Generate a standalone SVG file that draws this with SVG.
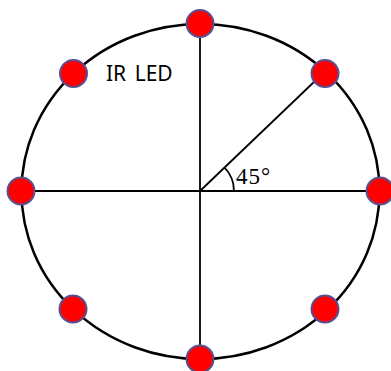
<svg xmlns="http://www.w3.org/2000/svg" width="391" height="371" viewBox="0 0 391 371">
<style>
.ln{stroke:#000;stroke-width:1.8;fill:none}
.rim{stroke:#000;stroke-width:2.5;fill:none}
.led{fill:#ff0000;stroke:#5a4f8f;stroke-width:2}
.lbl{font-family:"Noto Sans","Liberation Sans",sans-serif;font-size:21px;fill:#000}
.deg{font-family:"Liberation Serif",serif;font-size:23px;fill:#000;letter-spacing:1px}
</style>
<rect width="391" height="371" fill="#fff"/>
<g id="rim"><ellipse class="rim" cx="200.5" cy="191.5" rx="179" ry="167.5"/></g>
<g id="connectors">
<line class="ln" x1="200" y1="24" x2="200" y2="359"/>
<line class="ln" x1="21" y1="191" x2="380" y2="191"/>
<line class="ln" x1="200" y1="191" x2="315" y2="81"/>
<path class="ln" d="M234 191 A34 34 0 0 0 224.5 167.5"/>
</g>
<g id="led-n"><circle class="led" cx="200" cy="23.5" r="13.5"/></g>
<g id="led-ne"><circle class="led" cx="325" cy="73.5" r="13.5"/></g>
<g id="led-e"><circle class="led" cx="380" cy="191" r="13.5"/></g>
<g id="led-se"><circle class="led" cx="325" cy="309" r="13.5"/></g>
<g id="led-s"><circle class="led" cx="200" cy="359" r="13.5"/></g>
<g id="led-sw"><circle class="led" cx="73" cy="309" r="13.5"/></g>
<g id="led-w"><circle class="led" cx="21" cy="191" r="13.5"/></g>
<g id="led-nw"><circle class="led" cx="73.5" cy="73.5" r="13.5"/></g>
<g id="label-ir"><text class="lbl" x="106" y="81" word-spacing="3">IR LED</text></g>
<g id="label-angle"><text class="deg" x="236" y="184">45°</text></g>
</svg>
